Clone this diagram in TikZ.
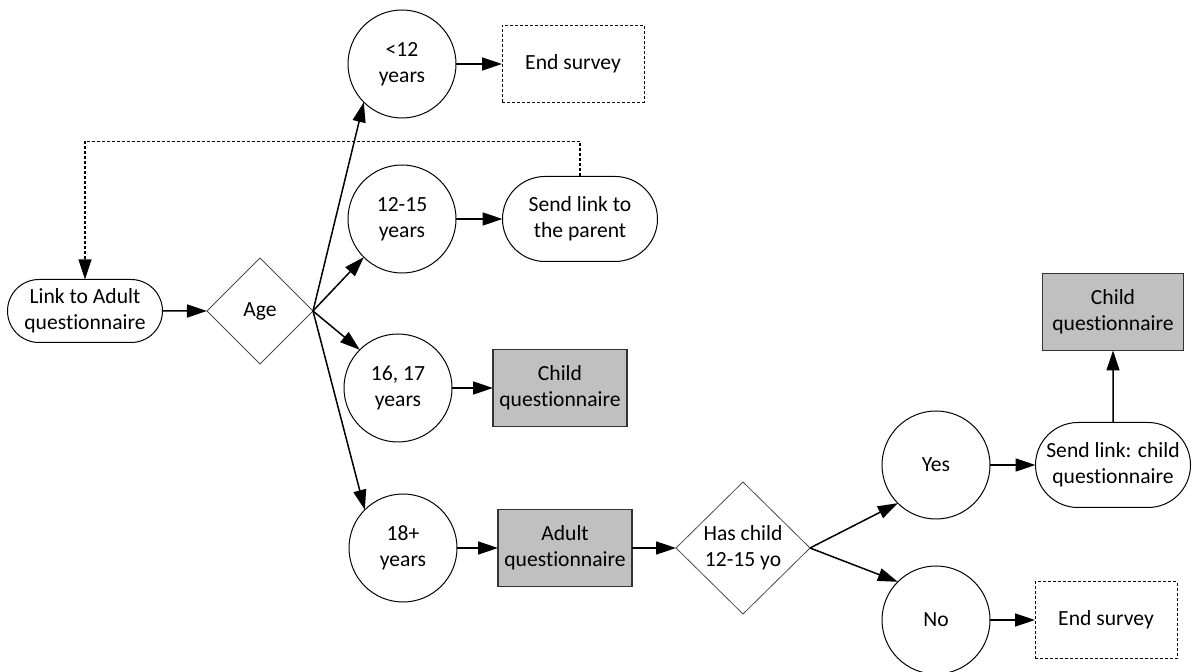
\documentclass[tikz,border=0pt]{standalone}
\usepackage{fontspec}
\setmainfont{Carlito}[Ligatures=NoCommon]
\usetikzlibrary{arrows.meta,shapes.geometric,shapes.misc}

\definecolor{boxgray}{RGB}{192,192,192}

\begin{document}
\begin{tikzpicture}[x=0.5pt,y=-0.5pt,
    font=\fontsize{10.8}{13}\selectfont,
    every node/.style={outer sep=0pt,inner sep=0pt,align=center},
    agecircle/.style={draw,circle,line width=0.5pt,minimum size=54pt},
    decision/.style={draw=black!70,diamond,line width=0.4pt},
    pill/.style={draw,rounded rectangle,line width=0.5pt,minimum width=77.5pt},
    qbox/.style={draw=black!80,fill=boxgray,line width=0.6pt,minimum width=67pt,minimum height=38.5pt},
    endbox/.style={draw,dash pattern=on 1.5pt off 1pt,line width=0.5pt,minimum width=71pt,minimum height=38.5pt},
    flow/.style={line width=0.75pt,-{Triangle[length=10pt,width=6.5pt]}},
    back/.style={line width=0.6pt,dash pattern=on 1.5pt off 1pt,-{Triangle[length=10pt,width=6.5pt]}}]

    % Fix the page to the reference size
    \useasboundingbox (0,0) rectangle (1192,672);

    % Start and the age question
    \node[pill,minimum height=31.5pt] (link) at (85,311) {Link to Adult\\questionnaire};
    \node[decision,minimum width=53pt,minimum height=53pt] (age) at (260,311) {Age};

    % Age groups
    \node[agecircle] (under12) at (402,64) {<12\\years};
    \node[agecircle] (age1215) at (402,219) {12-15\\years};
    \node[agecircle] (age1617) at (398,388) {16, 17\\years};
    \node[agecircle] (age18) at (403,548) {18+\\years};

    % What follows each group
    \node[endbox] (endtop) at (573,64) {End survey};
    \node[pill,minimum height=42.5pt] (parent) at (580,219) {Send link to\\the parent};
    \node[qbox] (childq) at (560,388) {Child\\questionnaire};
    \node[qbox] (adultq) at (565,548) {Adult\\questionnaire};

    % Second question for adults
    \node[decision,minimum width=67pt,minimum height=66pt] (haschild) at (743,548) {Has child\\12-15 yo};
    \node[agecircle] (yes) at (936,465) {Yes};
    \node[agecircle] (no) at (936,620) {No};
    \node[pill,minimum height=42.5pt] (sendchild) at (1113,465) {Send link: child\\questionnaire};
    \node[qbox,minimum width=70.5pt] (childq2) at (1113,312) {Child\\questionnaire};
    \node[endbox] (endbottom) at (1106,620) {End survey};

    % Connectors
    \draw[flow] (link) -- (age);
    \draw[flow] (age.east) -- (under12.south west);
    \draw[flow] (age.east) -- (age1215.south west);
    \draw[flow] (age.east) -- (age1617.north west);
    \draw[flow] (age.east) -- (age18.north west);
    \draw[flow] (under12) -- (endtop);
    \draw[flow] (age1215) -- (parent);
    \draw[flow] (age1617) -- (childq);
    \draw[flow] (age18) -- (adultq);
    \draw[flow] (adultq) -- (haschild);
    \draw[flow] (haschild.east) -- (yes.south west);
    \draw[flow] (haschild.east) -- (no.north west);
    \draw[flow] (yes) -- (sendchild);
    \draw[flow] (no) -- (endbottom);
    \draw[flow] (sendchild) -- (childq2);

    % Link sent back to the parent
    \draw[back] (parent.north) -- ++(0,-35) -| (link.north);
\end{tikzpicture}
\end{document}
